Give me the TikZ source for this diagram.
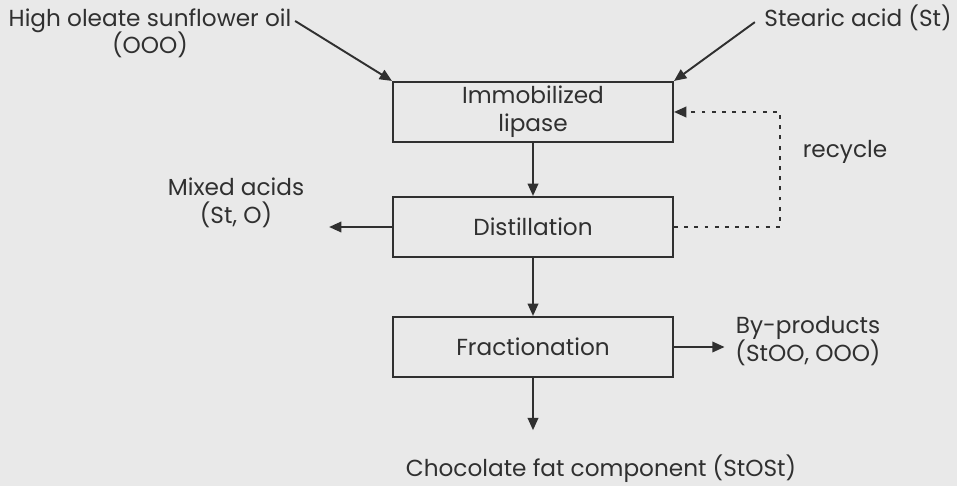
\documentclass[tikz,border=0pt]{standalone}
\usepackage{fontspec}
\setmainfont{Poppins}
\usetikzlibrary{arrows.meta}

\definecolor{paper}{RGB}{233,233,233}
\definecolor{ink}{RGB}{48,48,48}

\tikzset{
  stage/.style={draw=ink, line width=1.2pt, fill=paper, text=ink,
    minimum width=5.6cm, minimum height=1.2cm, align=center, inner sep=1pt},
  stream/.style={text=ink, align=center, inner sep=2pt},
  flow/.style={draw=ink, line width=1.1pt, -{Triangle[length=7pt,width=6pt]}},
  back/.style={flow, dash pattern=on 2.2pt off 3.6pt}
}

\begin{document}
\begin{tikzpicture}[x=0.02cm, y=-0.02cm, font=\fontsize{13.2}{16}\selectfont]

  \fill[paper] (0,0) rectangle (957,486);
  \useasboundingbox (0,0) rectangle (957,486);

  % process stages
  \node[stage] (lipase) at (533,112) {Immobilized\\lipase};
  \node[stage] (distil) at (533,227) {Distillation};
  \node[stage] (fraction) at (533,347) {Fractionation};

  % feeds and products
  \node[stream] (oil) at (150,21) {High oleate sunflower oil};
  \node[stream] (ooo) at (150,45) {(OOO)};
  \node[stream] (stearic) at (858,18) {Stearic acid (St)};
  \node[stream] (mixed) at (236,203) {Mixed acids\\(St, O)};
  \node[stream] (byprod) at (808,341) {By-products\\(StOO, OOO)};
  \node[stream] (choc) at (601,469) {Chocolate fat component (StOSt)};
  \node[stream] (recycle) at (845,152) {recycle};
  \coordinate (bend) at (780,0);

  \draw[flow] (oil.east) -- (lipase.north west);
  \draw[flow, shorten <=4pt] (stearic.west) -- (lipase.north east);
  \draw[flow] (lipase.south -| distil.north) -- (distil.north);
  \draw[flow] (distil.south) -- (distil.south |- fraction.north);
  \draw[flow, shorten >=12pt] (distil.west) -- (distil.west -| mixed.east);
  \draw[flow, shorten >=4pt] (fraction.east) -- (fraction.east -| byprod.west);
  \draw[flow, shorten >=12pt] (fraction.south) -- (fraction.south |- choc.north);

  % recycle loop
  \draw[back] (distil.east) -- (distil.east -| bend)
    -- (lipase.east -| bend) -- (lipase.east);

\end{tikzpicture}
\end{document}
